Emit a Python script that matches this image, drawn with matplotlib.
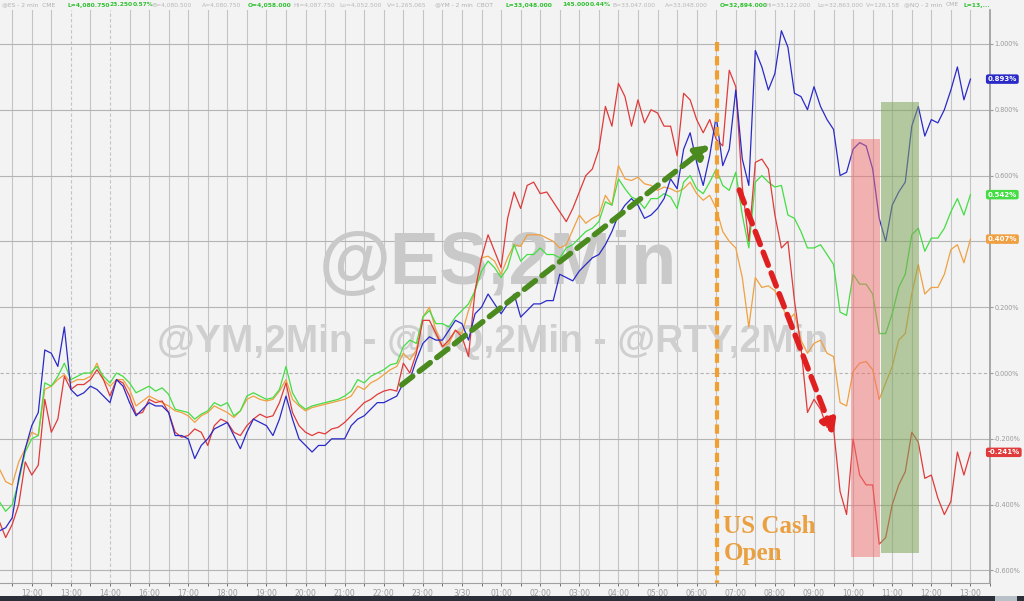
import numpy as np
import matplotlib
matplotlib.use("Agg")
import matplotlib.pyplot as plt
from matplotlib.patches import Rectangle

# ---------------- data ----------------
# sample index: 10-minute steps, hour index 0 = 12:00 (trading-hours axis, 15:00 break skipped)
sample_idx = list(range(-5, 145))

blue = [-0.48, -0.47, -0.44, -0.32, -0.23,
        -0.16, -0.12, 0.07, 0.06, 0.02, 0.14, -0.05, -0.07, -0.06, -0.04, -0.05, -0.07,
        -0.09, -0.02, -0.04, -0.09, -0.13, -0.11, -0.09, -0.10, -0.10, -0.12, -0.19, -0.19,
        -0.20, -0.26, -0.22, -0.20, -0.17, -0.16, -0.15, -0.19, -0.23, -0.18, -0.14, -0.15,
        -0.16, -0.19, -0.14, -0.07, -0.14, -0.20, -0.22, -0.24, -0.22, -0.22, -0.20, -0.20,
        -0.20, -0.16, -0.14, -0.13, -0.11, -0.09, -0.09, -0.08, -0.07, -0.03, -0.02, 0.04,
        0.09, 0.11, 0.10, 0.10, 0.13, 0.16, 0.15, 0.10, 0.18, 0.20, 0.24, 0.21,
        0.18, 0.21, 0.24, 0.17, 0.19, 0.21, 0.21, 0.22, 0.22, 0.30, 0.29, 0.28,
        0.31, 0.33, 0.35, 0.36, 0.39, 0.43, 0.48, 0.51, 0.53, 0.51, 0.47, 0.48,
        0.50, 0.53, 0.59, 0.56, 0.68, 0.73, 0.64, 0.57, 0.66, 0.78, 0.63, 0.68,
        0.86, 0.65, 0.57, 0.98, 0.93, 0.86, 0.91, 1.04, 0.99, 0.85, 0.84, 0.80,
        0.87, 0.81, 0.77, 0.74, 0.60, 0.61, 0.68, 0.70, 0.69, 0.62, 0.47, 0.40,
        0.51, 0.55, 0.58, 0.75, 0.81, 0.72, 0.77, 0.76, 0.80, 0.86, 0.93, 0.83, 0.893]

green = [-0.39, -0.42, -0.40, -0.33, -0.24,
         -0.20, -0.19, -0.03, -0.04, -0.01, 0.03, -0.02, -0.01, 0.00, 0.00, 0.02, -0.01,
         -0.03, 0.00, -0.01, -0.03, -0.06, -0.05, -0.04, -0.055, -0.045, -0.065, -0.11, -0.115,
         -0.12, -0.14, -0.125, -0.115, -0.09, -0.10, -0.09, -0.13, -0.115, -0.07, -0.06, -0.07,
         -0.08, -0.075, -0.05, 0.02, -0.06, -0.095, -0.11, -0.10, -0.095, -0.09, -0.085, -0.08,
         -0.07, -0.055, -0.02, -0.03, -0.01, 0.00, 0.01, 0.025, 0.03, 0.08, 0.10, 0.09,
         0.17, 0.19, 0.15, 0.15, 0.14, 0.17, 0.19, 0.21, 0.25, 0.31, 0.34, 0.32,
         0.29, 0.32, 0.39, 0.34, 0.36, 0.36, 0.38, 0.36, 0.36, 0.35, 0.38, 0.39,
         0.41, 0.43, 0.44, 0.46, 0.52, 0.51, 0.59, 0.56, 0.535, 0.525, 0.50, 0.53,
         0.53, 0.545, 0.535, 0.50, 0.58, 0.60, 0.56, 0.545, 0.58, 0.62, 0.57, 0.555,
         0.61, 0.48, 0.38, 0.58, 0.60, 0.58, 0.565, 0.57, 0.48, 0.47, 0.43, 0.38,
         0.38, 0.39, 0.36, 0.33, 0.185, 0.175, 0.30, 0.27, 0.27, 0.24, 0.12, 0.12,
         0.18, 0.26, 0.30, 0.42, 0.44, 0.37, 0.41, 0.41, 0.44, 0.49, 0.53, 0.48, 0.542]

orange = [-0.29, -0.33, -0.34, -0.27, -0.23,
          -0.18, -0.19, -0.05, -0.04, -0.02, -0.005, -0.03, -0.02, -0.02, -0.01, 0.03, -0.02,
          -0.04, -0.02, -0.02, -0.05, -0.10, -0.085, -0.07, -0.08, -0.09, -0.10, -0.115, -0.12,
          -0.13, -0.15, -0.13, -0.12, -0.10, -0.11, -0.12, -0.135, -0.115, -0.08, -0.07, -0.08,
          -0.085, -0.08, -0.055, -0.02, -0.08, -0.10, -0.115, -0.105, -0.10, -0.095, -0.09, -0.085,
          -0.08, -0.07, -0.04, -0.05, -0.03, -0.02, -0.005, 0.01, 0.02, 0.06, 0.04, 0.07,
          0.17, 0.20, 0.13, 0.08, 0.09, 0.13, 0.12, 0.19, 0.25, 0.35, 0.355, 0.34,
          0.30, 0.35, 0.39, 0.385, 0.42, 0.42, 0.42, 0.41, 0.40, 0.38, 0.39, 0.435,
          0.48, 0.455, 0.47, 0.48, 0.54, 0.51, 0.63, 0.59, 0.585, 0.595, 0.575, 0.57,
          0.555, 0.565, 0.56, 0.55, 0.56, 0.58, 0.545, 0.525, 0.54, 0.50, 0.43, 0.40,
          0.38, 0.29, 0.14, 0.29, 0.26, 0.265, 0.25, 0.21, 0.16, 0.18, 0.10, 0.06,
          0.09, 0.10, 0.06, 0.05, -0.09, -0.10, 0.005, 0.03, 0.035, 0.01, -0.08, -0.03,
          0.02, 0.10, 0.12, 0.24, 0.33, 0.24, 0.26, 0.26, 0.30, 0.375, 0.39, 0.335, 0.407]

red = [-0.45, -0.50, -0.46, -0.40, -0.27,
       -0.31, -0.28, -0.08, -0.18, -0.14, -0.01, -0.05, -0.035, -0.035, -0.02, 0.01, -0.02,
       -0.07, -0.02, -0.03, -0.07, -0.125, -0.12, -0.08, -0.09, -0.085, -0.12, -0.18, -0.195,
       -0.19, -0.17, -0.18, -0.22, -0.16, -0.14, -0.15, -0.18, -0.19, -0.16, -0.14, -0.125,
       -0.135, -0.13, -0.09, -0.03, -0.12, -0.16, -0.18, -0.19, -0.18, -0.185, -0.17, -0.165,
       -0.15, -0.13, -0.11, -0.09, -0.08, -0.065, -0.055, -0.05, -0.055, 0.03, 0.00, 0.06,
       0.16, 0.16, 0.12, 0.08, 0.10, 0.13, 0.11, 0.05, 0.25, 0.35, 0.42, 0.37,
       0.32, 0.47, 0.55, 0.50, 0.57, 0.58, 0.545, 0.55, 0.52, 0.49, 0.46, 0.50,
       0.55, 0.60, 0.62, 0.68, 0.81, 0.75, 0.88, 0.84, 0.75, 0.83, 0.76, 0.80,
       0.79, 0.75, 0.75, 0.66, 0.85, 0.83, 0.77, 0.73, 0.77, 0.71, 0.69, 0.92,
       0.87, 0.565, 0.40, 0.64, 0.65, 0.62, 0.48, 0.38, 0.40, 0.22, 0.08, -0.12,
       -0.08, -0.11, -0.165, -0.17, -0.36, -0.43, -0.20, -0.31, -0.34, -0.34, -0.52, -0.50,
       -0.40, -0.34, -0.30, -0.18, -0.21, -0.32, -0.31, -0.38, -0.43, -0.39, -0.24, -0.31, -0.241]

hour_labels = ['12:00', '13:00', '14:00', '16:00', '17:00', '18:00', '19:00', '20:00',
               '21:00', '22:00', '23:00', '3/30', '01:00', '02:00', '03:00', '04:00',
               '05:00', '06:00', '07:00', '08:00', '09:00', '10:00', '11:00', '12:00', '13:00']
y_ticks = [1.0, 0.8, 0.6, 0.4, 0.2, 0.0, -0.2, -0.4, -0.6]
last_vals = [0.893, 0.542, 0.407, -0.241]

# ---------------- style ----------------
c_blue, c_green, c_orange, c_red = '#2a2ac8', '#44dd44', '#f0a040', '#e03a3a'
bg = '#f3f3f3'

t = np.array(sample_idx) / 6.0

fig = plt.figure(figsize=(10.24, 6.01), dpi=100, facecolor=bg)
ax = fig.add_axes([0, 18 / 601, 990 / 1024, 573 / 601])
ax.set_facecolor(bg)
ax.set_xlim(-0.812, 24.30)
ax.set_ylim(-0.638, 1.103)

# grid
for k in np.arange(-0.5, 24.51, 0.5):
    ls = (0, (3, 2)) if k in (1.0, 2.0) else '-'
    ax.axvline(k, color='#c4c4c4', lw=0.8, ls=ls, zorder=0)
for yv in y_ticks:
    ls = (0, (3, 2)) if yv == 0.0 else '-'
    ax.axhline(yv, color='#b4b4b4', lw=0.8, ls=ls, zorder=0)

# watermark
ax.text(0.503, 0.555, '@ES,2Min', transform=ax.transAxes, ha='center', va='center',
        fontsize=53, fontweight='bold', family='Liberation Sans', color='#c9c9c9', zorder=1)
ax.text(0.498, 0.42, '@YM,2Min - @NQ,2Min - @RTY,2Min', transform=ax.transAxes,
        ha='center', va='center', fontsize=28, fontweight='bold', family='Liberation Sans',
        color='#cfcfcf', zorder=1)

# lines
ax.plot(t, orange, color=c_orange, lw=0.9, zorder=3)
ax.plot(t, green, color=c_green, lw=0.9, zorder=3)
ax.plot(t, red, color=c_red, lw=0.9, zorder=3)
ax.plot(t, blue, color=c_blue, lw=0.9, zorder=4)

# shaded boxes
ax.add_patch(Rectangle((20.95, -0.559), 0.74, 1.27, facecolor='#f07070', alpha=0.5,
                       edgecolor='none', zorder=5))
ax.add_patch(Rectangle((21.72, -0.547), 0.96, 1.371, facecolor='#7fa55a', alpha=0.55,
                       edgecolor='none', zorder=5))

# US cash open line & text
ax.plot([17.52, 17.52], [1.006, -0.64], color='#f0a030', lw=3, ls=(0, (2.2, 1.2)), zorder=6,
        clip_on=True)
ax.text(17.68, -0.43, 'US Cash\nOpen', ha='left', va='top', fontsize=18, fontweight='bold',
        family='Liberation Serif', color='#eaa040', linespacing=1.25, zorder=7)

# arrows
ax.annotate('', xy=(17.33, 0.693), xytext=(9.46, -0.036),
            arrowprops=dict(arrowstyle='-|>,head_width=0.45,head_length=0.8', color='#4b8a1e',
                            lw=4, ls=(0, (2.5, 1.5)), shrinkA=0, shrinkB=0), zorder=8)
ax.annotate('', xy=(20.5, -0.188), xytext=(18.09, 0.556),
            arrowprops=dict(arrowstyle='-|>,head_width=0.45,head_length=0.8', color='#e02020',
                            lw=4, ls=(0, (2.5, 1.5)), shrinkA=0, shrinkB=0), zorder=8)

# axes
for s in ['top', 'left']:
    ax.spines[s].set_visible(False)
ax.spines['right'].set_color('#9a9a9a')
ax.spines['right'].set_linewidth(1.2)
ax.spines['bottom'].set_color('#a0a0a0')
ax.spines['bottom'].set_linewidth(0.8)

ax.yaxis.tick_right()
ax.set_yticks(y_ticks)
ax.set_yticklabels(['%.3f%%' % v for v in y_ticks])
ax.tick_params(axis='y', length=2, width=0.8, color='#9a9a9a', labelsize=4.7,
               labelcolor='#9a9a9a', pad=1)
ax.set_xticks(range(len(hour_labels)))
ax.set_xticklabels(hour_labels)
ax.set_xticks(np.arange(-0.5, 24.51, 0.5), minor=True)
ax.tick_params(axis='x', which='both', length=2.5, width=0.7, color='#707070',
               labelsize=5.5, labelcolor='#9a9a9a', pad=1.5)

# last value tags
for v, c in zip(last_vals, [c_blue, c_green, c_orange, c_red]):
    ax.text(24.44, v, '%.3f%%' % v, ha='left', va='center', fontsize=5, fontweight='bold',
            color='white', clip_on=False, zorder=10,
            bbox=dict(boxstyle='round,pad=0.25,rounding_size=0.3', facecolor=c, edgecolor='none'))

# header line
hdr = [(2, '@ES - 2 min  CME', '#b0b0b0'), (67, 'L=4,080.750', '#30c030'),
       (110, '23.250', '#30c030'), (133, '0.57%', '#30c030'),
       (152, 'B=4,080.500', '#b8b8b8'), (202, 'A=4,080.750', '#b8b8b8'),
       (248, 'O=4,058.000', '#30c030'), (293, 'Hi=4,087.750', '#b8b8b8'),
       (339, 'Lo=4,052.500', '#b8b8b8'), (387, 'V=1,265,065', '#b8b8b8'),
       (435, '@YM - 2 min  CBOT', '#b0b0b0'), (505, 'L=33,048.000', '#30c030'),
       (562, '145.000', '#30c030'), (590, '0.44%', '#30c030'),
       (612, 'B=33,047.000', '#b8b8b8'), (665, 'A=33,048.000', '#b8b8b8'),
       (720, 'O=32,894.000', '#30c030'), (765, 'Hi=33,122.000', '#b8b8b8'),
       (817, 'Lo=32,863.000', '#b8b8b8'), (866, 'V=126,158', '#b8b8b8'),
       (904, '@NQ - 2 min', '#b0b0b0'), (946, 'CME', '#b0b0b0'), (963, 'L=13,...', '#30c030')]
for xp, s, c in hdr:
    fig.text(xp / 1024, 1 - 5 / 601, s, ha='left', va='center', fontsize=4.3,
             fontweight='bold' if c == '#30c030' else 'normal', color=c)

# bottom bar
fig.patches.append(Rectangle((0, 0), 1, 5 / 601, transform=fig.transFigure,
                             facecolor='#2b2f3a', edgecolor='none'))
fig.patches.append(Rectangle((995 / 1024, 0), 22 / 1024, 5 / 601, transform=fig.transFigure,
                             facecolor='#b8c0c8', edgecolor='none'))

fig.savefig('out.png', dpi=100, facecolor=bg)
